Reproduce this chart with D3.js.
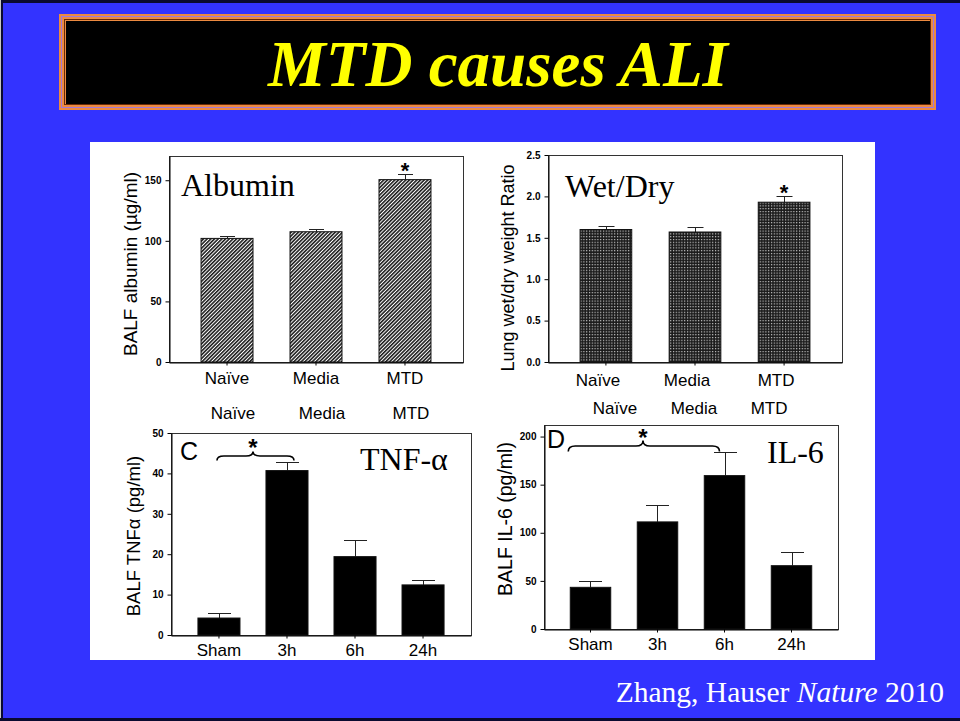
<!DOCTYPE html>
<html lang="en">
<head>
<meta charset="UTF-8">
<title>MTD causes ALI</title>
<script src="https://d3js.org/d3.v7.min.js"></script>
<style>
  body { margin: 0; background: #3333ff; }
  svg { display: block; }
  .tick text { font-family: "Liberation Sans", Arial, sans-serif; }
</style>
</head>
<body>
<script>
// data
var groups = ["Naïve", "Media", "MTD"];
var albumin = [102, 107.5, 150.5];
var albuminErr = [2, 2.3, 4.5];
var albuminTicks = [0, 50, 100, 150];

var wetDry = [1.60, 1.57, 1.93];
var wetDryErr = [0.04, 0.065, 0.08];
var wetDryTicks = [0, 0.5, 1.0, 1.5, 2.0, 2.5];

var times = ["Sham", "3h", "6h", "24h"];
var tnf = [4.2, 40.7, 19.4, 12.4];
var tnfErr = [1.2, 2.2, 4.1, 1.3];
var tnfTicks = [0, 10, 20, 30, 40, 50];

var il6 = [43.3, 111.3, 159.4, 65.8];
var il6Err = [6.2, 17.2, 24.2, 13.9];
var il6Ticks = [0, 50, 100, 150, 200];

var W = 960, H = 721;
var sans = '"Liberation Sans", Arial, sans-serif';
var serif = '"Liberation Serif", "Times New Roman", serif';

var svg = d3.select("body").append("svg")
    .attr("width", W)
    .attr("height", H);

// patterns for the top two panels
var defs = svg.append("defs");
var hatch = defs.append("pattern")
    .attr("id", "hatch")
    .attr("width", 2.6).attr("height", 2.6)
    .attr("patternUnits", "userSpaceOnUse")
    .attr("patternTransform", "rotate(45)");
hatch.append("rect").attr("width", 2.6).attr("height", 2.6).attr("fill", "#fff");
hatch.append("rect").attr("width", 1.6).attr("height", 2.6).attr("fill", "#1e1e1e");

var dots = defs.append("pattern")
    .attr("id", "dots")
    .attr("width", 2.8).attr("height", 2.8)
    .attr("patternUnits", "userSpaceOnUse");
dots.append("rect").attr("width", 2.8).attr("height", 2.8).attr("fill", "#1a1a1a");
dots.append("rect").attr("x", 1).attr("y", 1).attr("width", 1.1).attr("height", 1.1).attr("fill", "#eee");

// slide background and edges
svg.append("rect").attr("width", W).attr("height", H).attr("fill", "#3333ff");
svg.append("rect").attr("width", W).attr("height", 3).attr("fill", "#0a0a30");
svg.append("rect").attr("width", 3).attr("height", H).attr("fill", "#0a0a30");
svg.append("rect").attr("width", 1).attr("height", H).attr("fill", "#c8c8c8");
svg.append("rect").attr("y", H - 3).attr("width", W).attr("height", 3).attr("fill", "#0a0a30");

// title box
svg.append("rect").attr("x", 59).attr("y", 14).attr("width", 877).attr("height", 96).attr("fill", "#ec8a40");
svg.append("rect").attr("x", 61.5).attr("y", 16.5).attr("width", 872).attr("height", 91)
    .attr("fill", "none").attr("stroke", "#a078d8").attr("stroke-width", 1);
svg.append("rect").attr("x", 64.5).attr("y", 19.5).attr("width", 866).attr("height", 85)
    .attr("fill", "none").attr("stroke", "#6a2a08").attr("stroke-width", 1);
svg.append("rect").attr("x", 66).attr("y", 21).attr("width", 864).attr("height", 83).attr("fill", "#000");
svg.append("text")
    .attr("x", 498).attr("y", 86)
    .attr("text-anchor", "middle")
    .style("font-family", serif)
    .style("font-size", "65px")
    .style("font-weight", "bold")
    .style("font-style", "italic")
    .attr("fill", "#ffff00")
    .text("MTD causes ALI");

// white figure area
svg.append("rect").attr("x", 90).attr("y", 142).attr("width", 785).attr("height", 518).attr("fill", "#fff");

function panel(o) {
    var x = d3.scaleBand()
        .domain(o.cats)
        .range([o.x0, o.x1])
        .paddingInner(o.pi)
        .paddingOuter(o.po);
    var y = d3.scaleLinear()
        .domain([0, o.max])
        .range([o.y1, o.y0]);
    var g = svg.append("g");
    var rows = o.cats.map(function (c, i) { return { c: c, v: o.vals[i], e: o.errs[i] }; });

    // frame (top and right)
    g.append("rect")
        .attr("x", o.x0 + 0.5).attr("y", o.y0 + 0.5)
        .attr("width", o.x1 - o.x0).attr("height", o.y1 - o.y0)
        .attr("fill", "none").attr("stroke", "#333").attr("stroke-width", 1);

    // error bars (upper only)
    g.selectAll(".err").data(rows).enter().append("path")
        .attr("fill", "none").attr("stroke", "#222").attr("stroke-width", 1)
        .attr("d", function (d) {
            var cx = Math.round(x(d.c) + x.bandwidth() / 2) + 0.5;
            var yt = Math.round(y(d.v + d.e)) + 0.5;
            return "M" + cx + "," + y(d.v) + "V" + yt +
                "M" + (cx - o.cap / 2) + "," + yt + "H" + (cx + o.cap / 2);
        });

    g.selectAll(".bar").data(rows).enter().append("rect")
        .attr("x", function (d) { return x(d.c); })
        .attr("y", function (d) { return y(d.v); })
        .attr("width", x.bandwidth())
        .attr("height", function (d) { return y(0) - y(d.v); })
        .attr("fill", o.fill)
        .attr("stroke", "#111").attr("stroke-width", 1);

    var ya = g.append("g")
        .attr("transform", "translate(" + (o.x0 + 0.5) + ",0)")
        .call(d3.axisLeft(y).tickValues(o.ticks).tickFormat(o.fmt).tickSize(4).tickSizeOuter(0).tickPadding(4));
    ya.selectAll("text").style("font-size", "10px").style("font-weight", "bold").attr("fill", "#000");
    ya.select(".domain").attr("stroke", "#000");

    var xa = g.append("g")
        .attr("transform", "translate(0," + (o.y1 + 0.5) + ")")
        .call(d3.axisBottom(x).tickSize(3).tickSizeOuter(0).tickPadding(o.xpad));
    xa.selectAll("text").style("font-size", "17px").attr("dx", o.xdx || 0).attr("fill", "#000");
    xa.select(".domain").attr("stroke", "#000");

    g.append("text")
        .attr("transform", "translate(" + o.labX + "," + o.labY + ") rotate(-90)")
        .attr("text-anchor", "middle")
        .style("font-family", sans)
        .style("font-size", o.labSize + "px")
        .text(o.label);

    g.append("text")
        .attr("x", o.nameX).attr("y", o.nameY)
        .style("font-family", serif)
        .style("font-size", "32px")
        .text(o.name);

    return { x: x, y: y, rows: rows };
}

function star(px, py, size) {
    svg.append("text")
        .attr("x", px).attr("y", py)
        .attr("text-anchor", "middle")
        .style("font-family", sans)
        .style("font-weight", "bold")
        .style("font-size", size + "px")
        .text("*");
}

function brace(x1, x2, xm, yb, h) {
    var q = 7;
    var d = "M" + x1 + "," + (yb + h / 2) +
        "Q" + x1 + "," + yb + " " + (x1 + q) + "," + yb +
        "H" + (xm - q) +
        "Q" + xm + "," + yb + " " + xm + "," + (yb - h / 2) +
        "Q" + xm + "," + yb + " " + (xm + q) + "," + yb +
        "H" + (x2 - q) +
        "Q" + x2 + "," + yb + " " + x2 + "," + (yb + h / 2);
    svg.append("path").attr("d", d).attr("fill", "none").attr("stroke", "#000").attr("stroke-width", 1.6);
}

// A: albumin
var pA = panel({
    cats: groups, vals: albumin, errs: albuminErr, ticks: albuminTicks, fmt: d3.format("d"),
    x0: 169, x1: 463, y0: 156, y1: 362, max: 170, pi: 0.416, po: 0.36, cap: 15,
    fill: "url(#hatch)", xpad: 6,
    label: "BALF albumin (µg/ml)", labX: 137, labY: 264, labSize: 19,
    name: "Albumin", nameX: 181, nameY: 196
});
star(pA.x("MTD") + pA.x.bandwidth() / 2, pA.y(albumin[2] + albuminErr[2]) + 4, 22);

// second row of group names under A
var rowA = [6, 6, 6];
svg.selectAll(".rowA").data(groups).enter().append("text")
    .attr("x", function (d, i) { return pA.x(d) + pA.x.bandwidth() / 2 + rowA[i]; })
    .attr("y", 419)
    .attr("text-anchor", "middle")
    .style("font-family", sans).style("font-size", "17px")
    .text(function (d) { return d; });

// B: wet/dry
var pB = panel({
    cats: groups, vals: wetDry, errs: wetDryErr, ticks: wetDryTicks, fmt: d3.format(".1f"),
    x0: 548, x1: 842, y0: 155, y1: 362, max: 2.5, pi: 0.42, po: 0.36, cap: 16,
    fill: "url(#dots)", xpad: 8, xdx: -8,
    label: "Lung wet/dry weight Ratio", labX: 514, labY: 268, labSize: 18,
    name: "Wet/Dry", nameX: 565, nameY: 197
});
star(pB.x("MTD") + pB.x.bandwidth() / 2, pB.y(wetDry[2] + wetDryErr[2]) + 4, 22);

var rowB = [9, -1, -15];
svg.selectAll(".rowB").data(groups).enter().append("text")
    .attr("x", function (d, i) { return pB.x(d) + pB.x.bandwidth() / 2 + rowB[i]; })
    .attr("y", 414)
    .attr("text-anchor", "middle")
    .style("font-family", sans).style("font-size", "17px")
    .text(function (d) { return d; });

// C: TNF-alpha
var pC = panel({
    cats: times, vals: tnf, errs: tnfErr, ticks: tnfTicks, fmt: d3.format("d"),
    x0: 171, x1: 471, y0: 433, y1: 635, max: 50, pi: 0.382, po: 0.396, cap: 23,
    fill: "#000", xpad: 5.5,
    label: "BALF TNFα (pg/ml)", labX: 140, labY: 536, labSize: 18.5,
    name: "TNF-α", nameX: 360, nameY: 470
});
svg.append("text").attr("x", 180).attr("y", 460)
    .style("font-family", sans).style("font-size", "25px").text("C");
var cA = pC.x("Sham") + pC.x.bandwidth() / 2 - 2, cB = pC.x("3h") + pC.x.bandwidth() / 2 + 7;
brace(cA, cB, 253, 456, 9);
star(253, 456, 24);

// D: IL-6
var pD = panel({
    cats: times, vals: il6, errs: il6Err, ticks: il6Ticks, fmt: d3.format("d"),
    x0: 544, x1: 838, y0: 425, y1: 629, max: 212, pi: 0.396, po: 0.392, cap: 23,
    fill: "#000", xpad: 5,
    label: "BALF IL-6 (pg/ml)", labX: 512, labY: 519, labSize: 19.5,
    name: "IL-6", nameX: 767, nameY: 463
});
svg.append("text").attr("x", 547).attr("y", 448)
    .style("font-family", sans).style("font-size", "25px").text("D");
var dA = pD.x("Sham") - 2, dB = pD.x("6h") + pD.x.bandwidth() / 2 - 5;
brace(dA, dB, 643, 446, 11);
star(643, 446, 24);

// citation
var cite = svg.append("text")
    .attr("x", 944).attr("y", 702)
    .attr("text-anchor", "end")
    .style("font-family", serif)
    .style("font-size", "29.5px")
    .attr("fill", "#fff");
cite.append("tspan").text("Zhang, Hauser ");
cite.append("tspan").style("font-style", "italic").text("Nature");
cite.append("tspan").text(" 2010");
</script>
</body>
</html>
